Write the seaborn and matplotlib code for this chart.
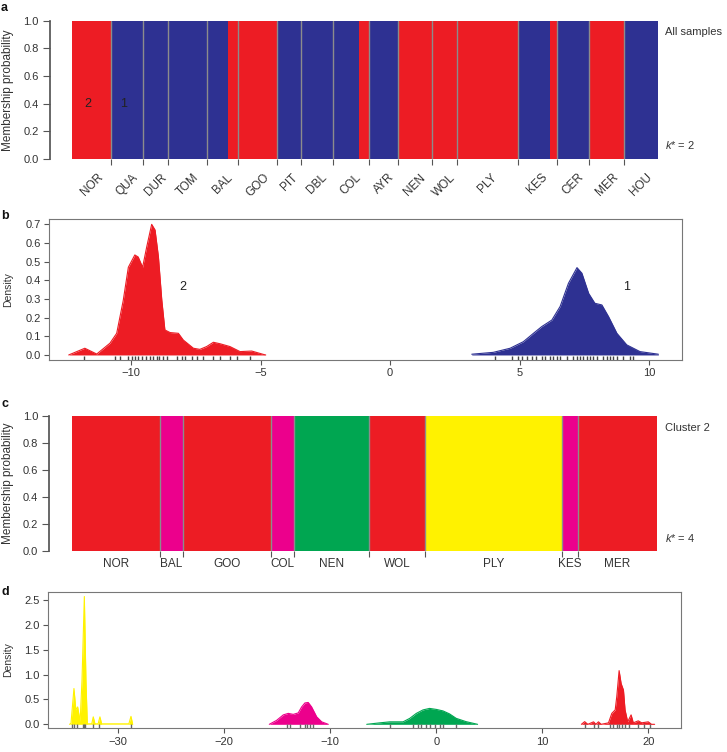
import numpy as np
import pandas as pd
import matplotlib
matplotlib.use("Agg")
import matplotlib.pyplot as plt
import seaborn as sns

# -------------------------------
# Colours
# -------------------------------
RED = '#ED1C24'
BLUE = '#2E3192'
MAGENTA = '#EC008C'
GREEN = '#00A651'
YELLOW = '#FFF200'
SEP = '#8C8C8C'

# -------------------------------
# Panel a: all samples, k* = 2 (individuals per population and cluster)
# -------------------------------
pops_all = ['NOR', 'QUA', 'DUR', 'TOM', 'BAL', 'GOO', 'PIT', 'DBL', 'COL',
            'AYR', 'NEN', 'WOL', 'PLY', 'KES', 'CER', 'MER', 'HOU']
blue_all = [0, 22, 17, 27, 14, 0, 16, 22, 18, 20, 0, 0, 0, 22, 22, 0, 23]
red_all = [27, 0, 0, 0, 7, 27, 0, 0, 7, 0, 23, 17, 42, 5, 0, 24, 0]

# -------------------------------
# Panel b: density of discriminant function (k* = 2)
# -------------------------------
b2_x = [-12.40, -11.78, -11.32, -10.81, -10.55, -10.30, -10.10, -9.85, -9.72,
        -9.55, -9.39, -9.20, -9.07, -8.94, -8.81, -8.69, -8.49, -8.17, -7.98,
        -7.59, -7.34, -7.08, -6.82, -6.56, -6.18, -5.79, -5.34, -4.89, -4.80]
b2_y = [0.000, 0.036, 0.005, 0.063, 0.116, 0.290, 0.470, 0.536, 0.525,
        0.470, 0.580, 0.700, 0.670, 0.527, 0.295, 0.134, 0.120, 0.116, 0.080,
        0.036, 0.030, 0.045, 0.068, 0.060, 0.045, 0.018, 0.021, 0.003, 0.000]
b1_x = [3.15, 3.98, 4.63, 5.14, 5.53, 5.85, 6.24, 6.56, 6.88, 7.21, 7.40,
        7.66, 7.90, 8.17, 8.43, 8.75, 9.13, 9.64, 10.35]
b1_y = [0.004, 0.014, 0.036, 0.071, 0.116, 0.152, 0.187, 0.260, 0.384, 0.468,
        0.438, 0.330, 0.277, 0.268, 0.205, 0.116, 0.054, 0.018, 0.004]
b2_rug = [-11.81, -10.62, -10.42, -10.10, -9.97, -9.85, -9.72, -9.59, -9.42,
          -9.27, -9.16, -9.01, -8.91, -8.75, -8.62, -8.24, -8.04, -7.92, -7.66,
          -7.46, -7.21, -6.82, -6.56, -6.18, -5.92, -5.41]
b1_rug = [4.04, 4.69, 4.94, 5.07, 5.27, 5.46, 5.63, 5.85, 5.97, 6.17, 6.29,
          6.42, 6.55, 6.81, 7.07, 7.20, 7.32, 7.45, 7.58, 7.71, 7.84, 7.97,
          8.22, 8.36, 8.48, 8.61, 8.74, 9.00, 9.25, 9.38]

# -------------------------------
# Panel c: cluster 2, k* = 4
# -------------------------------
pops_c = ['NOR', 'BAL', 'GOO', 'COL', 'NEN', 'WOL', 'PLY', 'KES', 'MER']
cluster_c = ['red', 'magenta', 'red', 'magenta', 'green', 'red', 'yellow',
             'magenta', 'red']
n_c = [27, 7, 27, 7, 23, 17, 42, 5, 24]

# -------------------------------
# Panel d: density of discriminant function (k* = 4)
# -------------------------------
dy_x = [-34.60, -34.46, -34.18, -34.00, -33.83, -33.60, -33.42, -33.20, -33.05,
        -32.92, -32.67, -32.50, -32.36, -32.20, -31.90, -31.73, -31.57, -29.00,
        -28.80, -28.64]
dy_y = [0.00, 0.02, 0.72, 0.29, 0.35, 0.05, 0.89, 2.57, 0.89,
        0.01, 0.01, 0.01, 0.15, 0.01, 0.01, 0.15, 0.01, 0.01,
        0.16, 0.00]
dm_x = [-15.75, -15.06, -14.43, -13.96, -13.49, -13.02, -12.70, -12.39,
        -12.08, -11.76, -11.28, -10.81, -10.19]
dm_y = [0.00, 0.08, 0.19, 0.22, 0.20, 0.23, 0.35, 0.43, 0.44, 0.35, 0.15,
        0.05, 0.00]
dg_x = [-6.56, -5.31, -4.38, -3.13, -2.50, -1.88, -1.25, -0.63, 0.00, 0.63,
        1.25, 1.88, 2.81, 3.90]
dg_y = [0.00, 0.03, 0.05, 0.05, 0.12, 0.22, 0.29, 0.32, 0.30, 0.27, 0.21,
        0.12, 0.054, 0.00]
dr_x = [13.69, 14.00, 14.30, 14.84, 15.06, 15.30, 15.56, 16.25, 16.56, 16.88,
        17.03, 17.25, 17.44, 17.66, 17.81, 18.06, 18.38, 18.59, 19.06, 19.38,
        20.00, 20.31, 20.60]
dr_y = [0.00, 0.054, 0.00, 0.05, 0.00, 0.05, 0.00, 0.03, 0.22, 0.29, 0.56,
        1.08, 0.82, 0.69, 0.29, 0.05, 0.19, 0.03, 0.07, 0.03, 0.05, 0.00,
        0.00]
dy_rug = [-34.4, -34.2, -33.9, -33.3, -33.2, -33.1, -32.4, -31.8, -28.8]
dm_rug = [-14.1, -13.8, -12.9, -12.4, -12.2, -11.9, -11.6]
dg_rug = [-4.38, -2.19, -1.72, -1.41, -0.94, -0.63, -0.16, 0.31, 0.63, 1.88]
dr_rug = [14.0, 14.84, 15.3, 16.4, 16.7, 17.03, 17.2, 17.5, 17.8, 18.2,
          19.06, 19.6, 20.2]

# -------------------------------
# Style
# -------------------------------
sns.set_theme(style="white")
plt.rcParams['font.family'] = ['Liberation Sans', 'DejaVu Sans']
plt.rcParams['mathtext.fontset'] = 'custom'
plt.rcParams['mathtext.it'] = 'Liberation Sans:italic'
plt.rcParams['mathtext.rm'] = 'Liberation Sans'
AX_COL = '#555555'
TXT_COL = '#333333'
FS = 8          # tick labels
FS_POP = 8.5    # population labels

W, H = 727, 752
fig = plt.figure(figsize=(W / 100, H / 100), dpi=100)


def px_axes(left, top, right, bottom):
    return fig.add_axes([left / W, 1 - bottom / H, (right - left) / W, (bottom - top) / H])


def fig_text(x, y, s, **kw):
    kw.setdefault('fontsize', 8)
    kw.setdefault('color', TXT_COL)
    fig.text(x / W, 1 - y / H, s, **kw)


def structure_axes(ax):
    for s in ['top', 'right', 'bottom']:
        ax.spines[s].set_visible(False)
    ax.spines['left'].set_position(('outward', 16))
    ax.spines['left'].set_bounds(0, 1)
    ax.spines['left'].set_color(AX_COL)
    ax.set_ylim(0, 1)
    ax.set_yticks(np.arange(0, 1.01, 0.2))
    ax.set_yticklabels([f'{v:.1f}' for v in np.arange(0, 1.01, 0.2)])
    ax.tick_params(axis='y', length=5, width=0.8, color=AX_COL, labelsize=FS,
                   labelcolor=TXT_COL, pad=3, left=True)


def density_axes(ax):
    for s in ax.spines.values():
        s.set_color('#777777')
        s.set_linewidth(0.8)
    ax.tick_params(length=3.5, width=0.8, color=AX_COL, labelsize=FS,
                   labelcolor=TXT_COL, pad=2.5, left=True, bottom=True)


def draw_density(ax, xs, ys, col):
    ax.fill_between(xs, 0, ys, color=col, lw=0)
    sns.lineplot(x=xs, y=ys, color=col, lw=0.8, ax=ax, sort=False)


# -------------------------------
# Panel a
# -------------------------------
ax_a = px_axes(72, 20.7, 657.7, 159)
n_all = np.array(blue_all) + np.array(red_all)
starts = np.concatenate([[0], np.cumsum(n_all)[:-1]])
for s0, nb, nr in zip(starts, blue_all, red_all):
    if nb:
        ax_a.bar(s0, 1, width=nb, align='edge', color=BLUE, lw=0)
    if nr:
        ax_a.bar(s0 + nb, 1, width=nr, align='edge', color=RED, lw=0)
bounds_a = np.cumsum(n_all)[:-1]
for b in bounds_a:
    ax_a.axvline(b, color=SEP, lw=1)
ax_a.set_xlim(0, n_all.sum())
structure_axes(ax_a)
ax_a.set_xticks(starts + n_all / 2)
ax_a.set_xticklabels(pops_all, rotation=45, ha='center', va='top', fontsize=FS_POP,
                     color=TXT_COL)
ax_a.set_xticks(bounds_a, minor=True)
ax_a.tick_params(axis='x', which='major', length=0, pad=9)
ax_a.tick_params(axis='x', which='minor', length=4, width=0.8, color=AX_COL, bottom=True)
ax_a.text(11, 0.4, '2', fontsize=9, color='#222222', ha='center', va='center')
ax_a.text(35.5, 0.4, '1', fontsize=9, color='#222222', ha='center', va='center')

# -------------------------------
# Panel b
# -------------------------------
ax_b = px_axes(49.3, 219.3, 681.7, 360)
draw_density(ax_b, b2_x, b2_y, RED)
draw_density(ax_b, b1_x, b1_y, BLUE)
sns.rugplot(x=b2_rug + b1_rug, height=0.03, color='#444444', lw=0.5, ax=ax_b)
ax_b.set_xlim(-13.15, 11.25)
ax_b.set_ylim(-0.027, 0.727)
ax_b.set_xticks([-10, -5, 0, 5, 10])
ax_b.set_xticklabels(['\u221210', '\u22125', '0', '5', '10'])
ax_b.set_yticks(np.arange(0, 0.71, 0.1))
ax_b.set_yticklabels([f'{v:.1f}' for v in np.arange(0, 0.71, 0.1)])
density_axes(ax_b)
ax_b.text(-8.0, 0.366, '2', fontsize=9, color='#222222', ha='center', va='center')
ax_b.text(9.13, 0.366, '1', fontsize=9, color='#222222', ha='center', va='center')

# -------------------------------
# Panel c
# -------------------------------
ax_c = px_axes(71.7, 415.7, 656.7, 551)
col_map = {'red': RED, 'magenta': MAGENTA, 'green': GREEN, 'yellow': YELLOW}
n_c_arr = np.array(n_c)
starts_c = np.concatenate([[0], np.cumsum(n_c_arr)[:-1]])
for s0, n, cl in zip(starts_c, n_c, cluster_c):
    ax_c.bar(s0, 1, width=n, align='edge', color=col_map[cl], lw=0)
bounds_c = np.cumsum(n_c_arr)[:-1]
for b in bounds_c:
    ax_c.axvline(b, color=SEP, lw=1)
ax_c.set_xlim(0, n_c_arr.sum())
structure_axes(ax_c)
ax_c.set_xticks(starts_c + n_c_arr / 2)
ax_c.set_xticklabels(pops_c, fontsize=FS_POP, color=TXT_COL)
ax_c.set_xticks(bounds_c, minor=True)
ax_c.tick_params(axis='x', which='major', length=0, pad=5)
ax_c.tick_params(axis='x', which='minor', length=4, width=0.8, color=AX_COL, bottom=True)

# -------------------------------
# Panel d
# -------------------------------
ax_d = px_axes(48.3, 591.7, 680.7, 728.3)
draw_density(ax_d, dy_x, dy_y, YELLOW)
draw_density(ax_d, dm_x, dm_y, MAGENTA)
draw_density(ax_d, dg_x, dg_y, GREEN)
draw_density(ax_d, dr_x, dr_y, RED)
sns.rugplot(x=dy_rug + dm_rug + dg_rug + dr_rug, height=0.03, color='#666666',
            lw=0.5, ax=ax_d)
ax_d.set_xlim(-36.6, 23.06)
ax_d.set_ylim(-0.08, 2.667)
ax_d.set_xticks([-30, -20, -10, 0, 10, 20])
ax_d.set_xticklabels(['\u221230', '\u221220', '\u221210', '0', '10', '20'])
ax_d.set_yticks(np.arange(0, 2.51, 0.5))
ax_d.set_yticklabels([f'{v:.1f}' for v in np.arange(0, 2.51, 0.5)])
density_axes(ax_d)

for ax in [ax_a, ax_b, ax_c, ax_d]:
    ax.set_xlabel('')
    ax.set_ylabel('')

# -------------------------------
# Labels and annotations
# -------------------------------
fig_text(8, (20.7 + 159) / 2, 'Membership probability', fontsize=8.5, rotation=90,
         ha='center', va='center')
fig_text(8, (219.3 + 360) / 2, 'Density', fontsize=7.5, rotation=90, ha='center', va='center')
fig_text(8, (415.7 + 551) / 2, 'Membership probability', fontsize=8.5, rotation=90,
         ha='center', va='center')
fig_text(8, (591.7 + 728.3) / 2, 'Density', fontsize=7.5, rotation=90, ha='center', va='center')
for lab, y in [('a', 8), ('b', 216), ('c', 404), ('d', 592)]:
    fig_text(1, y, lab, fontsize=9, fontweight='bold', color='#111111', ha='left', va='center')
fig_text(665, 32, 'All samples', ha='left', va='center')
fig_text(665, 145, r'$k$* = 2', ha='left', va='center')
fig_text(665, 428, 'Cluster 2', ha='left', va='center')
fig_text(665, 538, r'$k$* = 4', ha='left', va='center')

fig.savefig('out.png', dpi=100)
